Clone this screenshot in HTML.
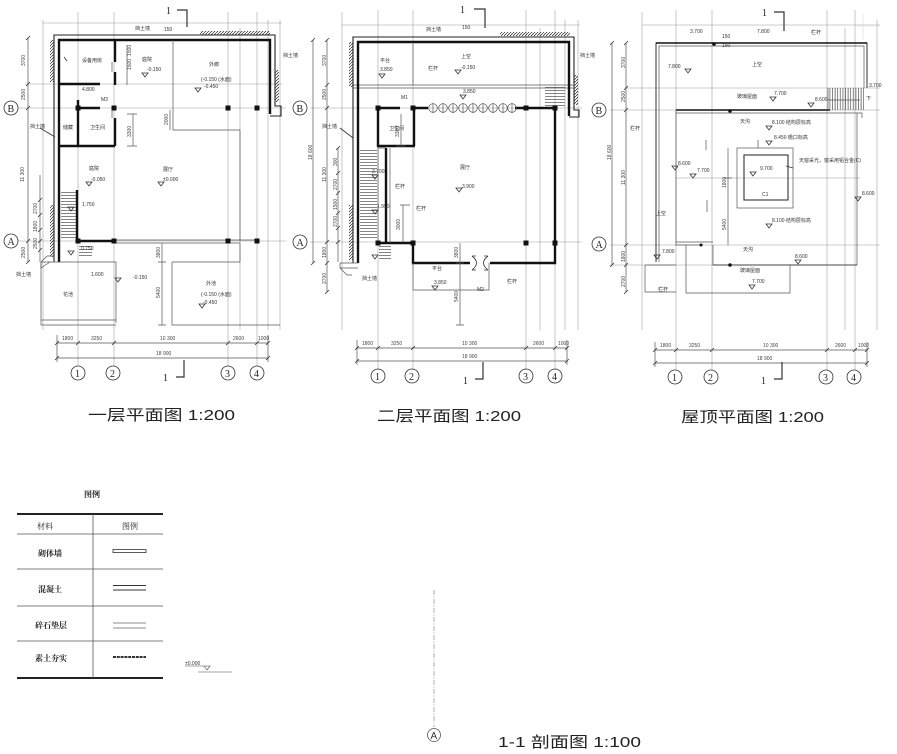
<!DOCTYPE html>
<html><head><meta charset="utf-8"><style>
html,body{margin:0;padding:0;background:#fff;}
svg{display:block;}
.g{stroke:#9a9a9a;stroke-width:.55;fill:none}
.t{stroke:#555;stroke-width:.7;fill:none}
.o{stroke:#222;stroke-width:1.1;fill:none}
.w{stroke:#111;stroke-width:2.4;fill:none}
.k{stroke:#333;stroke-width:.8;fill:none}
text{font-family:"Liberation Sans","Noto Sans CJK SC",sans-serif;fill:#333}
.s{font-size:5px}
.d{font-size:5px;fill:#444}
.c{font-size:10px;font-family:"Liberation Serif","Noto Sans CJK SC",serif;fill:#222}
.T{font-size:15px;fill:#222;font-family:"Liberation Sans","Noto Sans CJK SC",sans-serif}
.L{font-size:8px;fill:#222;font-family:"Liberation Serif","Noto Serif CJK SC",serif;font-weight:bold}
</style></head><body>
<svg width="897" height="754" viewBox="0 0 897 754" xmlns="http://www.w3.org/2000/svg">
<defs>
<pattern id="h" width="3" height="3" patternUnits="userSpaceOnUse"><path d="M0,3 L3,0" stroke="#222" stroke-width=".7"/></pattern>
<pattern id="st" width="4" height="3" patternUnits="userSpaceOnUse"><path d="M0,.5 H4" stroke="#333" stroke-width=".6"/></pattern>
<pattern id="sv" width="2.6" height="4" patternUnits="userSpaceOnUse"><path d="M.5,0 V4" stroke="#333" stroke-width=".6"/></pattern>
</defs>
<rect width="897" height="754" fill="#fff"/>

<!-- ================= PLAN 1 ================= -->
<g>
<!-- long grid lines -->
<path class="g" d="M43,20V330 M78,12V366 M114,12V366 M228,12V366 M240,28V330 M257,12V366 M268,20V330 M280,20V330"/>
<path class="g" d="M43,23H282 M25,84H282 M18,108H286 M18,241H286"/>
<!-- left dims -->
<path class="t" d="M28,38V262 M40,175V262"/>
<path class="k" d="M26,40l4,-4 M26,86l4,-4 M26,110l4,-4 M26,243l4,-4 M26,264l4,-4 M38,202l4,-4 M38,217l4,-4 M38,232l4,-4 M38,243l4,-4 M38,252l4,-4"/>
<text class="d" transform="translate(25,66) rotate(-90)">3700</text>
<text class="d" transform="translate(25,100) rotate(-90)">2500</text>
<text class="d" transform="translate(24,182) rotate(-90)">11 300</text>
<text class="d" transform="translate(25,258) rotate(-90)">2500</text>
<text class="d" transform="translate(37,214) rotate(-90)">2700</text>
<text class="d" transform="translate(37,232) rotate(-90)">1800</text>
<text class="d" transform="translate(37,249) rotate(-90)">2500</text>
<!-- bottom dims -->
<path class="t" d="M57,343H268 M57,358H268 M57,335V362 M268,335V362"/>
<path class="k" d="M55,345l4,-4 M76,345l4,-4 M112,345l4,-4 M226,345l4,-4 M255,345l4,-4 M266,345l4,-4 M55,360l4,-4 M266,360l4,-4"/>
<text class="d" x="62" y="340">1800</text><text class="d" x="91" y="340">3250</text><text class="d" x="160" y="340">10 300</text><text class="d" x="233" y="340">2600</text><text class="d" x="258" y="340">1000</text>
<text class="d" x="156" y="355">18 900</text>
<!-- outer walls -->
<path class="o" d="M54,262V35H275V106H281V116H270"/>
<path class="w" d="M59,262V40H270V114"/>
<rect x="50" y="40" width="4" height="42" fill="url(#h)"/>
<rect x="50" y="205" width="4" height="52" fill="url(#h)"/>
<rect x="200" y="31" width="70" height="4" fill="url(#h)"/>
<rect x="275" y="70" width="4" height="32" fill="url(#h)"/>
<path class="t" d="M41,262L47,256H54 M41,262V268L50,262"/>
<!-- interior -->
<path class="w" d="M60,84H100 M115,40V62 M115,72V85 M78,100V146 M60,146H115 M115,118V146 M78,108H100 M77,190V241 M78,241H114"/>
<path class="t" d="M114,240H257 M114,243H240 M173,40V130H240V241 M112,62V72 M112,108V118"/>
<path class="t" d="M41,262H116V323 M41,262V325H116 M41,320H116 M172,262V325H280 M172,262H240V243"/>
<rect x="61" y="190" width="15" height="48" fill="url(#st)"/>
<rect x="79" y="244" width="13" height="14" fill="url(#st)"/>
<g fill="#111"><rect x="75.5" y="105.5" width="5" height="5"/><rect x="111.5" y="105.5" width="5" height="5"/><rect x="225.5" y="105.5" width="5" height="5"/><rect x="254.5" y="105.5" width="5" height="5"/><rect x="75.5" y="238.5" width="5" height="5"/><rect x="111.5" y="238.5" width="5" height="5"/><rect x="225.5" y="238.5" width="5" height="5"/><rect x="254.5" y="238.5" width="5" height="5"/></g>
<!-- inner dims -->
<path class="t" d="M133,114V146 M127,114H137 M127,146H137 M170,110V130 M162,243V325 M158,262H166 M158,325H166 M127,45V85"/>
<text class="d" transform="translate(131,137) rotate(-90)">3300</text>
<text class="d" transform="translate(168,125) rotate(-90)">2000</text>
<text class="d" transform="translate(160,258) rotate(-90)">3800</text>
<text class="d" transform="translate(160,298) rotate(-90)">5400</text>
<text class="d" transform="translate(131,56) rotate(-90)">1500</text>
<text class="d" transform="translate(131,70) rotate(-90)">1500</text>
<!-- labels -->
<text class="s" x="82" y="62">设备用房</text>
<text class="s" x="142" y="61">庭院</text><text class="s" x="147" y="71">-0.150</text>
<text class="s" x="209" y="66">外廊</text><text class="s" x="201" y="81">(-0.150 (水面)</text><text class="s" x="204" y="88">-0.450</text>
<text class="s" x="63" y="129">储藏</text><text class="s" x="90" y="129">卫生间</text>
<text class="s" x="89" y="170">庭院</text><text class="s" x="91" y="181">-0.050</text>
<text class="s" x="163" y="171">展厅</text><text class="s" x="163" y="181">±0.000</text>
<text class="s" x="82" y="206">1.750</text><text class="s" x="81" y="250">0.750</text>
<text class="s" x="91" y="276">1.600</text><text class="s" x="133" y="279">-0.150</text>
<text class="s" x="63" y="296">花池</text>
<text class="s" x="206" y="285">外池</text><text class="s" x="201" y="296">(-0.150 (水面)</text><text class="s" x="203" y="304">-0.450</text>
<text class="s" x="101" y="101">M3</text><text class="s" x="82" y="91">4.800</text>
<text class="s" x="135" y="30">挡土墙</text><text class="s" x="164" y="31">150</text>
<text class="s" x="30" y="128">挡土墙</text><text class="s" x="283" y="57">挡土墙</text><text class="s" x="16" y="276">挡土墙</text>
<path class="k" d="M142,73l3,4l3,-4z M195,88l3,4l3,-4z M86,182l3,4l3,-4z M158,182l3,4l3,-4z M68,207l3,4l3,-4z M68,251l3,4l3,-4z M115,278l3,4l3,-4z M199,304l3,4l3,-4z M64,57l3,4 M40,128l15,9"/>
<!-- section marks -->
<text class="c" x="166" y="14">1</text><path class="k" d="M177,10H187V27" style="stroke-width:1.2"/>
<text class="c" x="163" y="381">1</text><path class="k" d="M176,377H184V360" style="stroke-width:1.2"/>
<!-- grid circles -->
<g class="k"><circle cx="78" cy="373" r="7"/><circle cx="113" cy="373" r="7"/><circle cx="228" cy="373" r="7"/><circle cx="257" cy="373" r="7"/><circle cx="11" cy="108" r="7"/><circle cx="11" cy="241" r="7"/></g>
<text class="c" x="75" y="377">1</text><text class="c" x="110" y="377">2</text><text class="c" x="225" y="377">3</text><text class="c" x="254" y="377">4</text>
<text class="c" x="7.5" y="112">B</text><text class="c" x="7.5" y="245">A</text>
</g>

<!-- ================= PLAN 2 ================= -->
<g>
<path class="g" d="M342,12V330 M378,10V370 M413,10V370 M526,10V370 M540,28V330 M555,10V370 M565,20V330 M578,20V330"/>
<path class="g" d="M342,25H580 M310,108H582 M310,242H582"/>
<path class="t" d="M353,85H573 M353,88H573"/>
<!-- left dims -->
<path class="t" d="M313,40V263 M327,40V292 M338,148V262"/>
<path class="k" d="M311,42l4,-4 M311,265l4,-4 M325,42l4,-4 M325,87l4,-4 M325,110l4,-4 M325,244l4,-4 M325,265l4,-4 M325,294l4,-4 M336,150l4,-4 M336,175l4,-4 M336,195l4,-4 M336,215l4,-4 M336,230l4,-4 M336,244l4,-4"/>
<text class="d" transform="translate(312,160) rotate(-90)">18 600</text>
<text class="d" transform="translate(326,66) rotate(-90)">3700</text>
<text class="d" transform="translate(326,100) rotate(-90)">2500</text>
<text class="d" transform="translate(326,182) rotate(-90)">11 300</text>
<text class="d" transform="translate(326,258) rotate(-90)">1800</text>
<text class="d" transform="translate(326,284) rotate(-90)">2700</text>
<text class="d" transform="translate(337,166) rotate(-90)">300</text>
<text class="d" transform="translate(337,190) rotate(-90)">2700</text>
<text class="d" transform="translate(337,210) rotate(-90)">1500</text>
<text class="d" transform="translate(337,227) rotate(-90)">2700</text>
<!-- bottom dims -->
<path class="t" d="M357,348H567 M357,361H567 M357,340V365 M567,340V365"/>
<path class="k" d="M355,350l4,-4 M376,350l4,-4 M411,350l4,-4 M524,350l4,-4 M553,350l4,-4 M565,350l4,-4 M355,363l4,-4 M565,363l4,-4"/>
<text class="d" x="362" y="345">1800</text><text class="d" x="391" y="345">3250</text><text class="d" x="462" y="345">10 300</text><text class="d" x="533" y="345">2600</text><text class="d" x="558" y="345">1000</text>
<text class="d" x="462" y="358">18 900</text>
<!-- outer walls -->
<path class="o" d="M353,263V37H574V110H579V117H569"/>
<path class="w" d="M358,263V42H569V116"/>
<path class="t" d="M340,263H358 M340,263V268H358 M340,268L347,275H352"/>
<rect x="349" y="42" width="4" height="45" fill="url(#h)"/>
<rect x="349" y="205" width="4" height="55" fill="url(#h)"/>
<rect x="500" y="32" width="70" height="4" fill="url(#h)"/>
<rect x="574" y="75" width="4" height="30" fill="url(#h)"/>
<path class="t" d="M413,42V85"/>
<!-- hall -->
<path class="w" d="M378,108H400 M413,108H428 M515,108H555V263H490 M470,263H413V243H378 M378,108V146H415 M414,108V146 M386,148V243"/>
<path class="t" d="M390,148V243 M378,148H386 M378,148V243"/>
<g class="t"><circle cx="433" cy="108" r="4.3"/><circle cx="443" cy="108" r="4.3"/><circle cx="453" cy="108" r="4.3"/><circle cx="463" cy="108" r="4.3"/><circle cx="473" cy="108" r="4.3"/><circle cx="483" cy="108" r="4.3"/><circle cx="493" cy="108" r="4.3"/><circle cx="503" cy="108" r="4.3"/><circle cx="512" cy="108" r="4.3"/></g>
<path class="t" d="M433,103V113 M443,103V113 M453,103V113 M463,103V113 M473,103V113 M483,103V113 M493,103V113 M503,103V113 M512,103V113"/>
<path class="k" d="M472,256Q481,263 472,270 M488,256Q479,263 488,270 M472,256H476 M488,256H484 M472,270H476 M488,270H484"/>
<rect x="360" y="148" width="17" height="92" fill="url(#st)"/>
<rect x="379" y="245" width="12" height="14" fill="url(#st)"/>
<path class="t" d="M413,263V290H489V263"/>
<g fill="#111"><rect x="375.5" y="105.5" width="5" height="5"/><rect x="410.5" y="105.5" width="5" height="5"/><rect x="523.5" y="105.5" width="5" height="5"/><rect x="552.5" y="105.5" width="5" height="5"/><rect x="375.5" y="240.5" width="5" height="5"/><rect x="410.5" y="240.5" width="5" height="5"/><rect x="523.5" y="240.5" width="5" height="5"/><rect x="552.5" y="240.5" width="5" height="5"/></g>
<!-- inner dims -->
<path class="t" d="M401,114V146 M396,146H406 M403,205V242 M400,205H410 M460,243V325 M456,325H464 M456,263H464"/>
<text class="d" transform="translate(399,137) rotate(-90)">3300</text>
<text class="d" transform="translate(400,230) rotate(-90)">3000</text>
<text class="d" transform="translate(458,258) rotate(-90)">3800</text>
<text class="d" transform="translate(458,302) rotate(-90)">5400</text>
<!-- labels -->
<text class="s" x="380" y="62">平台</text><text class="s" x="380" y="71">3.850</text>
<text class="s" x="461" y="58">上空</text><text class="s" x="461" y="69">-0.150</text>
<text class="s" x="428" y="70">栏杆</text><text class="s" x="463" y="93">3.850</text>
<text class="s" x="389" y="130">卫生间</text>
<text class="s" x="460" y="169">展厅</text><text class="s" x="462" y="188">3.900</text>
<text class="s" x="372" y="173">2.700</text><text class="s" x="377" y="208">1.950</text>
<text class="s" x="395" y="188">栏杆</text><text class="s" x="416" y="210">栏杆</text>
<text class="s" x="432" y="270">平台</text><text class="s" x="434" y="284">3.850</text>
<text class="s" x="477" y="291">M2</text><text class="s" x="507" y="283">栏杆</text>
<text class="s" x="401" y="99">M1</text><text class="s" x="462" y="29">150</text>
<text class="s" x="426" y="31">挡土墙</text><text class="s" x="322" y="128">挡土墙</text><text class="s" x="580" y="57">挡土墙</text><text class="s" x="362" y="280">挡土墙</text>
<rect x="545" y="86" width="20" height="20" fill="url(#st)"/>
<path class="k" d="M379,74l3,4l3,-4z M455,70l3,4l3,-4z M460,95l3,4l3,-4z M456,188l3,4l3,-4z M372,175l3,4l3,-4z M372,210l3,4l3,-4z M372,255l3,4l3,-4z M432,286l3,4l3,-4z M340,128l13,10"/>
<!-- section marks -->
<text class="c" x="460" y="13">1</text><path class="k" d="M474,9H485V28" style="stroke-width:1.2"/>
<text class="c" x="463" y="384">1</text><path class="k" d="M475,379H483V362" style="stroke-width:1.2"/>
<g class="k"><circle cx="378" cy="376" r="7"/><circle cx="412" cy="376" r="7"/><circle cx="526" cy="376" r="7"/><circle cx="555" cy="376" r="7"/><circle cx="300" cy="108" r="7"/><circle cx="300" cy="242" r="7"/></g>
<text class="c" x="375" y="380">1</text><text class="c" x="409" y="380">2</text><text class="c" x="523" y="380">3</text><text class="c" x="552" y="380">4</text>
<text class="c" x="296.5" y="112">B</text><text class="c" x="296.5" y="246">A</text>
</g>

<!-- ================= PLAN 3 ================= -->
<g>
<path class="g" d="M642,12V330 M676,10V370 M712,10V370 M827,10V370 M845,28V330 M855,10V370 M877,20V330"/>
<path class="g" d="M642,25H880 M625,88H880 M610,110H880 M676,178H860 M610,245H880 M610,265H800"/>
<!-- left dims -->
<path class="t" d="M612,43V265 M626,43V292"/>
<path class="k" d="M610,45l4,-4 M610,267l4,-4 M624,45l4,-4 M624,90l4,-4 M624,112l4,-4 M624,247l4,-4 M624,267l4,-4 M624,294l4,-4"/>
<text class="d" transform="translate(611,160) rotate(-90)">18 600</text>
<text class="d" transform="translate(625,68) rotate(-90)">3700</text>
<text class="d" transform="translate(625,102) rotate(-90)">2500</text>
<text class="d" transform="translate(625,185) rotate(-90)">11 300</text>
<text class="d" transform="translate(625,262) rotate(-90)">1800</text>
<text class="d" transform="translate(625,287) rotate(-90)">2700</text>
<!-- bottom dims -->
<path class="t" d="M655,350H867 M655,363H867 M655,342V367 M867,342V367"/>
<path class="k" d="M653,352l4,-4 M674,352l4,-4 M710,352l4,-4 M825,352l4,-4 M853,352l4,-4 M865,352l4,-4 M653,365l4,-4 M865,365l4,-4"/>
<text class="d" x="660" y="347">1800</text><text class="d" x="689" y="347">3250</text><text class="d" x="763" y="347">10 300</text><text class="d" x="835" y="347">2600</text><text class="d" x="858" y="347">1000</text>
<text class="d" x="757" y="360">18 900</text>
<!-- parapet -->
<path class="k" d="M656,262V43H867V88" style="stroke-width:1"/>
<path class="t" d="M659,262V46H864V88"/>
<path class="w" d="M656,43H867" style="stroke-width:1.6"/>
<!-- roof body -->
<path class="w" d="M676,110H830" style="stroke-width:1.6"/>
<path class="t" d="M676,113H857 M676,110V245H703 M676,242H713 M857,113V265H713V245 M857,113H862V118"/>
<path class="k" d="M713,265H857"/>
<rect x="828" y="88" width="36" height="22" fill="url(#sv)"/>
<path class="t" d="M828,88V110 M828,100H860"/>
<!-- skylight -->
<rect class="t" x="737" y="148" width="56" height="60"/>
<rect class="k" x="744" y="155" width="44" height="45" style="stroke-width:1.1"/>
<!-- bottom rects -->
<path class="t" d="M686,245V293H790V265 M645,265H676 M645,265V292H676"/>
<circle cx="714" cy="44" r="1.8" fill="#111"/><circle cx="730" cy="111" r="1.8" fill="#111"/><circle cx="730" cy="265" r="1.8" fill="#111"/><circle cx="701" cy="245" r="1.5" fill="#111"/>
<!-- inner dims -->
<path class="t" d="M728,148V245 M724,178H732 M706,140V150 M707,200V212 M758,140V148"/>
<text class="d" transform="translate(726,188) rotate(-90)">1800</text>
<text class="d" transform="translate(726,230) rotate(-90)">5400</text>
<!-- labels -->
<text class="s" x="690" y="33">3.700</text><text class="s" x="757" y="33">7.800</text><text class="s" x="811" y="34">栏杆</text>
<text class="s" x="722" y="38">150</text><text class="s" x="722" y="47">150</text>
<text class="s" x="752" y="66">上空</text><text class="s" x="668" y="68">7.800</text>
<text class="s" x="737" y="98">玻璃屋面</text><text class="s" x="774" y="95">7.700</text><text class="s" x="815" y="101">8.600</text>
<text class="s" x="869" y="87">3.700</text><text class="s" x="866" y="100">下</text>
<text class="s" x="740" y="123">天沟</text><text class="s" x="772" y="124">8.100 结构层标高</text>
<text class="s" x="774" y="139">8.450 檐口标高</text>
<text class="s" x="760" y="170">9.700</text><text class="s" x="799" y="162">天窗采光，窗采用铝合金(C)</text>
<text class="s" x="762" y="196">C1</text>
<text class="s" x="772" y="222">8.100 结构层标高</text>
<text class="s" x="678" y="165">8.600</text><text class="s" x="697" y="172">7.700</text>
<text class="s" x="862" y="195">8.600</text>
<text class="s" x="656" y="215">上空</text><text class="s" x="630" y="130">栏杆</text>
<text class="s" x="662" y="253">7.800</text><text class="s" x="795" y="258">8.600</text>
<text class="s" x="743" y="251">天沟</text>
<text class="s" x="740" y="272">玻璃屋面</text><text class="s" x="752" y="283">7.700</text>
<text class="s" x="658" y="291">栏杆</text>
<path class="k" d="M685,69l3,4l3,-4z M770,97l3,4l3,-4z M808,103l3,4l3,-4z M766,126l3,4l3,-4z M766,141l3,4l3,-4z M750,172l3,4l3,-4z M672,166l3,4l3,-4z M690,174l3,4l3,-4z M855,197l3,4l3,-4z M766,224l3,4l3,-4z M654,255l3,4l3,-4z M795,260l3,4l3,-4z M749,285l3,4l3,-4z M786,166L793,168"/>
<!-- section marks -->
<text class="c" x="762" y="16">1</text><path class="k" d="M774,12H784V31" style="stroke-width:1.2"/>
<text class="c" x="761" y="384">1</text><path class="k" d="M774,379H782V362" style="stroke-width:1.2"/>
<g class="k"><circle cx="675" cy="377" r="7"/><circle cx="711" cy="377" r="7"/><circle cx="826" cy="377" r="7"/><circle cx="854" cy="377" r="7"/><circle cx="599" cy="110" r="7"/><circle cx="599" cy="244" r="7"/></g>
<text class="c" x="672" y="381">1</text><text class="c" x="708" y="381">2</text><text class="c" x="823" y="381">3</text><text class="c" x="851" y="381">4</text>
<text class="c" x="595.5" y="114">B</text><text class="c" x="595.5" y="248">A</text>
</g>

<!-- ================= TITLES ================= -->
<text class="T" x="88" y="420" textLength="147" lengthAdjust="spacingAndGlyphs">一层平面图 1:200</text>
<text class="T" x="377" y="421" textLength="144" lengthAdjust="spacingAndGlyphs">二层平面图 1:200</text>
<text class="T" x="681" y="422" textLength="143" lengthAdjust="spacingAndGlyphs">屋顶平面图 1:200</text>

<!-- ================= LEGEND ================= -->
<text class="L" x="84" y="497">图例</text>
<path d="M17,514H163 M17,678H163" stroke="#222" stroke-width="2"/>
<path d="M17,534H163 M17,569H163 M17,606H163 M17,641H163" stroke="#555" stroke-width=".7"/>
<path d="M93,514V678" stroke="#555" stroke-width=".8"/>
<text class="L" x="37" y="529" style="font-weight:normal">材料</text>
<text class="L" x="122" y="529" style="font-weight:normal">图例</text>
<text class="L" x="38" y="556">砌体墙</text>
<text class="L" x="38" y="592">混凝土</text>
<text class="L" x="35" y="628">碎石垫层</text>
<text class="L" x="35" y="661">素土夯实</text>
<rect x="113" y="549.5" width="33" height="3" fill="#fff" stroke="#333" stroke-width=".8"/>
<path d="M113,585.5H146 M113,590H146" stroke="#333" stroke-width="1"/>
<path d="M113,623H146 M113,628H146" stroke="#666" stroke-width=".7"/>
<path d="M113,657H146" stroke="#333" stroke-width="2" stroke-dasharray="3,.8"/>
<text x="185" y="665" style="font-size:5px">±0.000</text>
<path d="M185,666H204 M204,666l3,4l3,-4z M198,672H232" stroke="#444" stroke-width=".6" fill="none"/>

<!-- ================= SECTION ================= -->
<path d="M434,590V727" stroke="#999" stroke-width=".8" stroke-dasharray="5,1.5,1,1.5"/>
<circle cx="434" cy="735" r="6.5" fill="none" stroke="#555" stroke-width=".8"/>
<text x="430.5" y="739" style="font-size:10px;fill:#333">A</text>
<text class="T" x="498" y="747" textLength="143" lengthAdjust="spacingAndGlyphs">1-1 剖面图 1:100</text>
<path d="M855,26H880 M863,14V40" stroke="#ddd" stroke-width=".6"/>
</svg>
</body></html>
